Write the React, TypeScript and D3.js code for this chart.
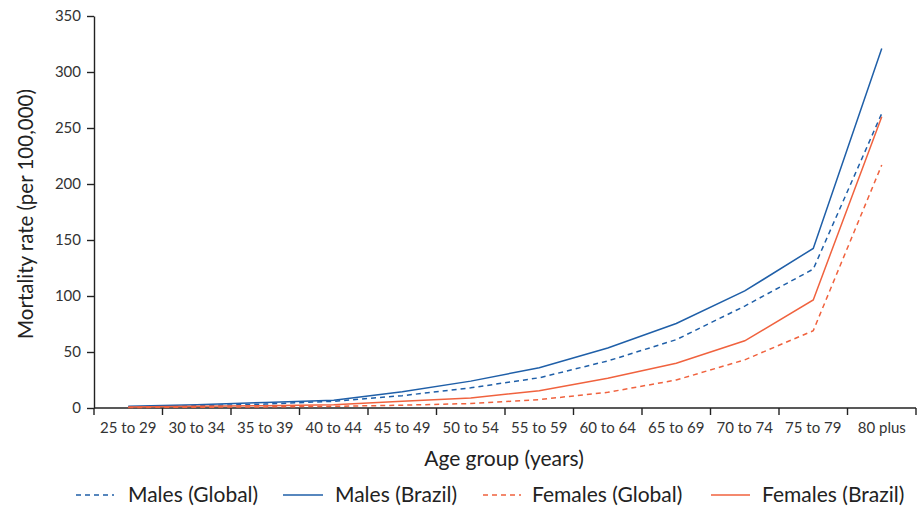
import React, { useEffect, useRef } from "react";
import * as d3 from "d3";

const ageGroups = ["25 to 29", "30 to 34", "35 to 39", "40 to 44", "45 to 49", "50 to 54", "55 to 59", "60 to 64", "65 to 69", "70 to 74", "75 to 79", "80 plus"];
const malesGlobal = [1, 2, 3.5, 6, 11, 18, 27, 42, 61, 91, 124, 263];
const malesBrazil = [1.5, 3, 5, 7, 14.5, 24, 36, 53.5, 75.5, 104.5, 142.5, 321];
const femalesGlobal = [0.5, 0.7, 1, 1.5, 2.5, 4, 7.5, 14, 25, 43, 69, 217];
const femalesBrazil = [1, 1.5, 2, 3, 6, 9, 15.5, 26.5, 40, 60, 96.5, 260];
const yTicks = [0, 50, 100, 150, 200, 250, 300, 350];

const BLUE = "#1f5fa8";
const ORANGE = "#f0623e";
const FONT = "Lato, 'Open Sans', sans-serif";

const seriesList = [
  { name: "Males (Global)", values: malesGlobal, color: BLUE, dash: "5,4" },
  { name: "Males (Brazil)", values: malesBrazil, color: BLUE, dash: null },
  { name: "Females (Global)", values: femalesGlobal, color: ORANGE, dash: "5,4" },
  { name: "Females (Brazil)", values: femalesBrazil, color: ORANGE, dash: null },
];

export default function App() {
  const ref = useRef<SVGSVGElement>(null);
  useEffect(() => {
    const svg = d3.select(ref.current);
    svg.selectAll("*").remove();
    const left = 94, right = 916, top = 16, bottom = 408;
    const x = d3.scaleBand().domain(ageGroups).range([left, right]);
    const y = d3.scaleLinear().domain([0, 350]).range([bottom, top]);

    const gx = svg.append("g").attr("transform", `translate(0,${bottom})`)
      .call(d3.axisBottom(x).tickSize(6).tickSizeOuter(6).tickPadding(5));
    gx.selectAll(".tick line").remove();
    const bounds = ageGroups.map((g) => x(g)!).concat([right]);
    gx.selectAll(".bt").data(bounds).enter().append("line")
      .attr("x1", (d) => d).attr("x2", (d) => d).attr("y1", 0).attr("y2", 7)
      .attr("stroke", "#222").attr("stroke-width", 1.4);
    gx.select(".domain").attr("stroke", "#222").attr("stroke-width", 1.4).attr("d", `M${left},0H${right}`);
    gx.selectAll(".tick text").attr("font-family", FONT).attr("font-size", 15).attr("fill", "#333").attr("dy", "0.9em");

    const gy = svg.append("g").attr("transform", `translate(${left},0)`)
      .call(d3.axisLeft(y).tickValues(yTicks).tickSize(7).tickSizeOuter(0).tickPadding(6));
    gy.select(".domain").attr("stroke", "#222").attr("stroke-width", 1.4);
    gy.selectAll(".tick line").attr("stroke", "#222").attr("stroke-width", 1.4);
    gy.selectAll(".tick text").attr("font-family", FONT).attr("font-size", 15).attr("fill", "#333");

    const line = d3.line<number>()
      .x((_, i) => x(ageGroups[i])! + x.bandwidth() / 2)
      .y((d) => y(d));

    seriesList.forEach((s) => {
      const p = svg.append("path").attr("d", line(s.values)!).attr("fill", "none")
        .attr("stroke", s.color).attr("stroke-width", 1.5);
      if (s.dash) p.attr("stroke-dasharray", s.dash);
    });

    svg.append("text").attr("x", 504).attr("y", 466).attr("text-anchor", "middle")
      .attr("font-family", FONT).attr("font-size", 21).attr("fill", "#222").text("Age group (years)");
    svg.append("text").attr("transform", `translate(33,214) rotate(-90)`).attr("text-anchor", "middle")
      .attr("font-family", FONT).attr("font-size", 20.5).attr("fill", "#222").text("Mortality rate (per 100,000)");

    const legendPos = [
      { x1: 76, x2: 114, tx: 128 },
      { x1: 283, x2: 323, tx: 335 },
      { x1: 483, x2: 521, tx: 532 },
      { x1: 711, x2: 750, tx: 762 },
    ];
    const ly = 495;
    seriesList.forEach((s, i) => {
      const lp = legendPos[i];
      const l = svg.append("line").attr("x1", lp.x1).attr("x2", lp.x2).attr("y1", ly).attr("y2", ly)
        .attr("stroke", s.color).attr("stroke-width", 1.5);
      if (s.dash) l.attr("stroke-dasharray", "5,4");
      svg.append("text").attr("x", lp.tx).attr("y", ly + 7).attr("font-family", FONT).attr("font-size", 21)
        .attr("fill", "#222").text(s.name);
    });
  }, []);
  return <svg ref={ref} width={923} height={508} style={{ position: "absolute", left: 0, top: 0 }} />;
}
